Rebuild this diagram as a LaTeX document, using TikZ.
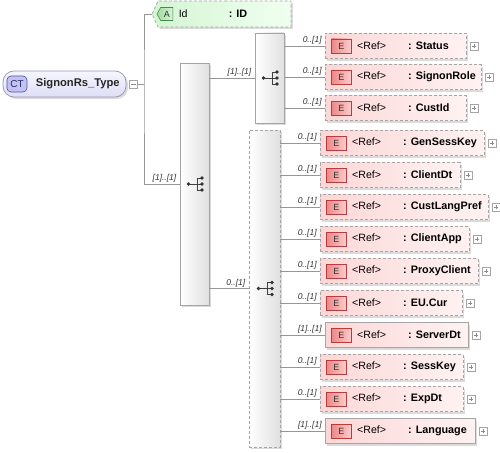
\documentclass[tikz,border=0pt]{standalone}
\usepackage{fontspec}
\setmainfont{Liberation Sans}
\usetikzlibrary{positioning,shadows,shapes.symbols}

\definecolor{linegray}{RGB}{150,150,150}
\definecolor{boxgray}{RGB}{165,165,165}
\definecolor{pinkL}{RGB}{252,215,215}
\definecolor{pinkR}{RGB}{255,242,242}
\definecolor{badgeL}{RGB}{238,135,135}
\definecolor{badgeR}{RGB}{252,205,205}
\definecolor{badgeline}{RGB}{185,60,60}
\definecolor{greenL}{RGB}{212,245,212}
\definecolor{greenR}{RGB}{240,255,240}
\definecolor{agreenL}{RGB}{160,220,160}
\definecolor{agreenR}{RGB}{215,245,215}
\definecolor{agreenline}{RGB}{70,140,70}
\definecolor{lavT}{RGB}{246,246,255}
\definecolor{lavB}{RGB}{222,222,245}
\definecolor{lavline}{RGB}{150,150,180}
\definecolor{ctfill}{RGB}{195,195,242}
\definecolor{ctline}{RGB}{80,80,160}
\definecolor{cttext}{RGB}{40,40,110}
\newcommand{\nmfont}{\fontsize{10.8}{13}\selectfont\bfseries}

\begin{document}
\begin{tikzpicture}[x=1pt,y=-1pt,
    conn/.style={draw=linegray,line width=0.7pt},
    mult/.style={font=\fontsize{8.5}{10}\selectfont\itshape,text=black!80,inner sep=1pt,anchor=south east,xshift=-2pt},
    shade/.style={drop shadow={shadow xshift=2pt,shadow yshift=-2pt,fill=black!20,opacity=0.7}},
    elbox/.style={rectangle,draw=boxgray,line width=0.7pt,left color=pinkL,right color=pinkR,minimum height=25pt,anchor=west,shade},
    elopt/.style={elbox,dash pattern=on 3pt off 2pt},
    ebadge/.style={rectangle,draw=badgeline,line width=0.6pt,left color=badgeL,right color=badgeR,minimum width=20pt,minimum height=14pt,inner sep=0pt,font=\fontsize{9}{10}\selectfont,text=black!80},
    etext/.style={inner sep=0pt,font=\fontsize{10.6}{12}\selectfont},
    plusbox/.style={rectangle,draw=boxgray,fill=white,minimum size=8pt,inner sep=0pt,line width=0.5pt,
      path picture={\draw[black!45,line width=0.5pt] ([xshift=1.8pt]path picture bounding box.west) -- ([xshift=-1.8pt]path picture bounding box.east)
        ([yshift=-1.8pt]path picture bounding box.north) -- ([yshift=1.8pt]path picture bounding box.south);}},
    seqbox/.style={rectangle,draw=boxgray,line width=0.7pt,left color=white,right color=black!12,shade},
    seqsym/.pic={
      \draw[black!75,line width=0.9pt] (-6,0) -- (2.5,0) (2.5,-6) -- (2.5,6)
        (2.5,-6) -- (7.5,-6) (2.5,6) -- (7.5,6) (2.5,0) -- (7.5,0);
      \fill[black!80] (-6,0) circle (1.8pt) (7.5,-6) circle (1.8pt) (7.5,0) circle (1.8pt) (7.5,6) circle (1.8pt);
    }]
\useasboundingbox (0,0) rectangle (500,452);

% Complex type
\node[rectangle,rounded corners=11pt,draw=lavline,line width=0.7pt,top color=lavT,bottom color=lavB,minimum width=123pt,minimum height=26pt,shade] (root) at (64.5,84) {};
\node[rectangle,rounded corners=4pt,draw=ctline,line width=0.6pt,fill=ctfill,minimum width=20pt,minimum height=16pt,inner sep=0pt,font=\fontsize{10}{12}\selectfont,text=cttext,right=4pt of root.west] {CT};
\node[inner sep=0pt,font=\fontsize{11.2}{13}\selectfont\bfseries,text=black!85,right=33pt of root.west] {SignonRs\_Type};
\node[rectangle,draw=boxgray,fill=white,minimum size=8pt,inner sep=0pt,line width=0.5pt,right=3pt of root.east,
  path picture={\draw[black!45,line width=0.5pt] ([xshift=1.8pt]path picture bounding box.west) -- ([xshift=-1.8pt]path picture bounding box.east);}] (rootminus) {};
\coordinate (fork) at (144,84);

% Attribute
\node[signal,signal to=west,signal pointer angle=130,draw=boxgray,line width=0.7pt,dash pattern=on 3pt off 2pt,left color=greenL,right color=greenR,minimum width=139pt,minimum height=26pt,shade] (id) at (224.5,14) {};
\node[signal,signal to=west,signal pointer angle=120,draw=agreenline,line width=0.6pt,left color=agreenL,right color=agreenR,minimum width=16pt,minimum height=13pt,inner sep=0pt,font=\fontsize{9}{10}\selectfont,text=black!80,right=5pt of id.west] {A};
\node[etext,right=27pt of id.west] {\makebox[50pt][l]{Id}{\nmfont: ID}};

% Sequences
\node[seqbox,minimum width=29pt,minimum height=242pt] (seqa) at (194.5,184) {};
\pic at (seqa) {seqsym};
\node[seqbox,minimum width=29pt,minimum height=90pt] (seqb) at (269.5,78) {};
\pic at (seqb) {seqsym};
\node[seqbox,dash pattern=on 3pt off 2pt,minimum width=31pt,minimum height=317pt] (seqc) at (264.5,288.5) {};
\pic at (seqc) {seqsym};

\draw[conn] (rootminus.east) -- (fork);
\draw[conn] (id.west) -| (fork) |- (seqa.west) node[mult] {[1]..[1]};
\draw[conn] (seqa.east |- seqb) -- (seqb.west) node[mult] {[1]..[1]};
\draw[conn] (seqa.east |- seqc) -- (seqc.west) node[mult] {0..[1]};

% First sequence elements
\node[elopt,minimum width=141pt] (status) at (325,46) {};
\node[ebadge,right=6pt of status.west] {E};
\node[etext,right=32pt of status.west] {\makebox[51pt][l]{<Ref>}{\nmfont: Status}};
\node[plusbox,right=3pt of status.east] {};
\draw[conn] (seqb.east |- status) -- (status.west) node[mult] {0..[1]};

\node[elopt,minimum width=156pt] (signonrole) at (325,77) {};
\node[ebadge,right=6pt of signonrole.west] {E};
\node[etext,right=32pt of signonrole.west] {\makebox[51pt][l]{<Ref>}{\nmfont: SignonRole}};
\node[plusbox,right=3pt of signonrole.east] {};
\draw[conn] (seqb.east |- signonrole) -- (signonrole.west) node[mult] {0..[1]};

\node[elopt,minimum width=141pt] (custid) at (325,108) {};
\node[ebadge,right=6pt of custid.west] {E};
\node[etext,right=32pt of custid.west] {\makebox[51pt][l]{<Ref>}{\nmfont: CustId}};
\node[plusbox,right=3pt of custid.east] {};
\draw[conn] (seqb.east |- custid) -- (custid.west) node[mult] {0..[1]};

% Second sequence elements
\node[elopt,minimum width=164pt] (gensesskey) at (320,143) {};
\node[ebadge,right=6pt of gensesskey.west] {E};
\node[etext,right=32pt of gensesskey.west] {\makebox[51pt][l]{<Ref>}{\nmfont: GenSessKey}};
\node[plusbox,right=3pt of gensesskey.east] {};
\draw[conn] (seqc.east |- gensesskey) -- (gensesskey.west) node[mult] {0..[1]};

\node[elopt,minimum width=140pt] (clientdt) at (320,175) {};
\node[ebadge,right=6pt of clientdt.west] {E};
\node[etext,right=32pt of clientdt.west] {\makebox[51pt][l]{<Ref>}{\nmfont: ClientDt}};
\node[plusbox,right=3pt of clientdt.east] {};
\draw[conn] (seqc.east |- clientdt) -- (clientdt.west) node[mult] {0..[1]};

\node[elopt,minimum width=168pt] (custlangpref) at (320,207) {};
\node[ebadge,right=6pt of custlangpref.west] {E};
\node[etext,right=32pt of custlangpref.west] {\makebox[51pt][l]{<Ref>}{\nmfont: CustLangPref}};
\node[plusbox,right=3pt of custlangpref.east] {};
\draw[conn] (seqc.east |- custlangpref) -- (custlangpref.west) node[mult] {0..[1]};

\node[elopt,minimum width=149pt] (clientapp) at (320,239) {};
\node[ebadge,right=6pt of clientapp.west] {E};
\node[etext,right=32pt of clientapp.west] {\makebox[51pt][l]{<Ref>}{\nmfont: ClientApp}};
\node[plusbox,right=3pt of clientapp.east] {};
\draw[conn] (seqc.east |- clientapp) -- (clientapp.west) node[mult] {0..[1]};

\node[elopt,minimum width=158pt] (proxyclient) at (320,271) {};
\node[ebadge,right=6pt of proxyclient.west] {E};
\node[etext,right=32pt of proxyclient.west] {\makebox[51pt][l]{<Ref>}{\nmfont: ProxyClient}};
\node[plusbox,right=3pt of proxyclient.east] {};
\draw[conn] (seqc.east |- proxyclient) -- (proxyclient.west) node[mult] {0..[1]};

\node[elopt,minimum width=142pt] (eucur) at (320,303) {};
\node[ebadge,right=6pt of eucur.west] {E};
\node[etext,right=32pt of eucur.west] {\makebox[51pt][l]{<Ref>}{\nmfont: EU.Cur}};
\node[plusbox,right=3pt of eucur.east] {};
\draw[conn] (seqc.east |- eucur) -- (eucur.west) node[mult] {0..[1]};

\node[elbox,minimum width=143pt] (serverdt) at (325,335) {};
\node[ebadge,right=6pt of serverdt.west] {E};
\node[etext,right=32pt of serverdt.west] {\makebox[51pt][l]{<Ref>}{\nmfont: ServerDt}};
\node[plusbox,right=3pt of serverdt.east] {};
\draw[conn] (seqc.east |- serverdt) -- (serverdt.west) node[mult] {[1]..[1]};

\node[elopt,minimum width=143pt] (sesskey) at (320,367) {};
\node[ebadge,right=6pt of sesskey.west] {E};
\node[etext,right=32pt of sesskey.west] {\makebox[51pt][l]{<Ref>}{\nmfont: SessKey}};
\node[plusbox,right=3pt of sesskey.east] {};
\draw[conn] (seqc.east |- sesskey) -- (sesskey.west) node[mult] {0..[1]};

\node[elopt,minimum width=143pt] (expdt) at (320,399) {};
\node[ebadge,right=6pt of expdt.west] {E};
\node[etext,right=32pt of expdt.west] {\makebox[51pt][l]{<Ref>}{\nmfont: ExpDt}};
\node[plusbox,right=3pt of expdt.east] {};
\draw[conn] (seqc.east |- expdt) -- (expdt.west) node[mult] {0..[1]};

\node[elbox,minimum width=150pt] (language) at (325,431) {};
\node[ebadge,right=6pt of language.west] {E};
\node[etext,right=32pt of language.west] {\makebox[51pt][l]{<Ref>}{\nmfont: Language}};
\node[plusbox,right=3pt of language.east] {};
\draw[conn] (seqc.east |- language) -- (language.west) node[mult] {[1]..[1]};
\end{tikzpicture}
\end{document}
